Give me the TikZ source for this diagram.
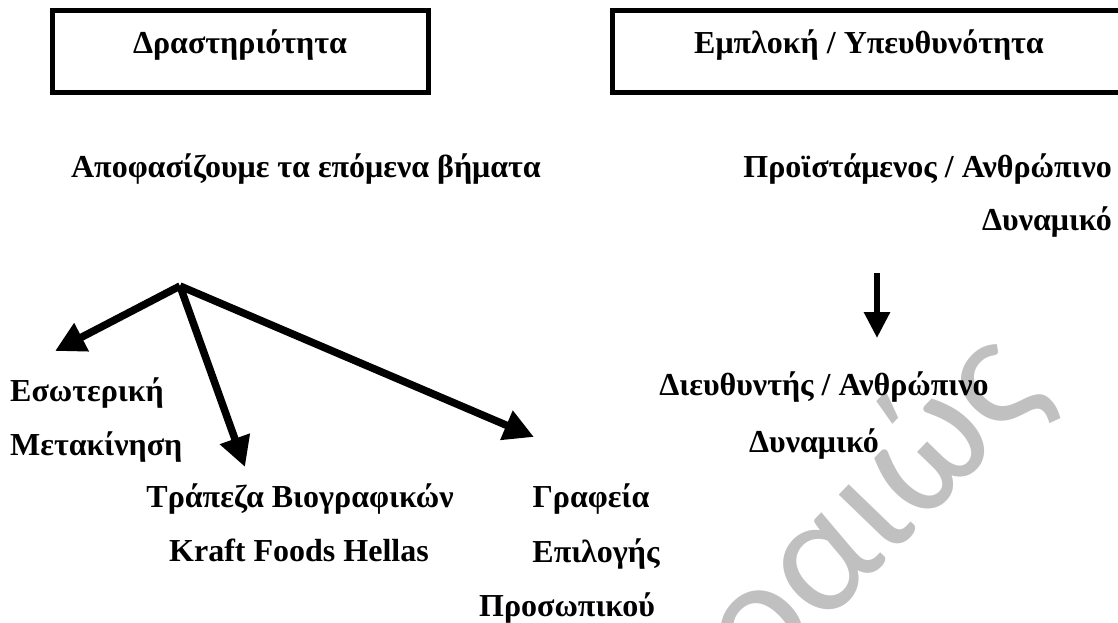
\documentclass[tikz,border=0pt]{standalone}
\usepackage{fontspec}
\setmainfont{Liberation Serif}
\newfontfamily\wmfont{Carlito}
\usetikzlibrary{arrows.meta}
\definecolor{wmgray}{HTML}{C0C0C0}
\tikzset{
  lbl/.style={font=\fontsize{32}{36}\selectfont\bfseries, inner sep=0pt, anchor=base},
  lblw/.style={lbl, anchor=base west},
  lble/.style={lbl, anchor=base east},
  titlebox/.style={draw, line width=5pt},
  bigarrow/.style={line width=7.5pt, -{Triangle[length=30pt,width=30pt]}},
  downarrow/.style={line width=6pt, -{Triangle[length=26pt,width=25pt]}},
  wm/.style={text=wmgray, font=\fontsize{168}{168}\selectfont\wmfont, inner sep=0pt}
}
\begin{document}
\begin{tikzpicture}[x=1pt,y=-1pt]
\clip (0,0) rectangle (1118,622);
\useasboundingbox (0,0) rectangle (1118,622);
% watermark
\node[wm, rotate=46] (wmark) at (872,510) {οαιώς};
% boxes
\draw[titlebox] (52,10) rectangle (428,92);
\draw[titlebox] (612,10) rectangle (1128,92);
\node[lbl] (act) at (240,53) {Δραστηριότητα};
\node[lbl] (inv) at (869,53) {Εμπλοκή / Υπευθυνότητα};
% left column
\node[lbl] (decide) at (306,177) {Αποφασίζουμε τα επόμενα βήματα};
\coordinate (split) at (180,286);
\coordinate (tipA) at (55,351);
\coordinate (tipB) at (245,467);
\coordinate (tipC) at (534,437);
\draw[bigarrow] (split) -- (tipA);
\draw[bigarrow] (split) -- (tipB);
\draw[bigarrow] (split) -- (tipC);
\node[lblw] (int1) at (10,401) {Εσωτερική};
\node[lblw] (int2) at (10,455) {Μετακίνηση};
\node[lbl] (bank1) at (300,507) {Τράπεζα Βιογραφικών};
\node[lbl] (bank2) at (299,561) {Kraft Foods Hellas};
\node[lbl] (ag1) at (591,507) {Γραφεία};
\node[lbl] (ag2) at (596,562) {Επιλογής};
\node[lbl] (ag3) at (567,616) {Προσωπικού};
% right column
\node[lble] (sup1) at (1112,177) {Προϊστάμενος / Ανθρώπινο};
\node[lble] (sup2) at (1112,230) {Δυναμικό};
\coordinate (dtop) at (877,273);
\coordinate (dtip) at (877,338);
\draw[downarrow] (dtop) -- (dtip);
\node[lbl] (dir1) at (824,395) {Διευθυντής / Ανθρώπινο};
\node[lbl] (dir2) at (814,452) {Δυναμικό};
\end{tikzpicture}
\end{document}
